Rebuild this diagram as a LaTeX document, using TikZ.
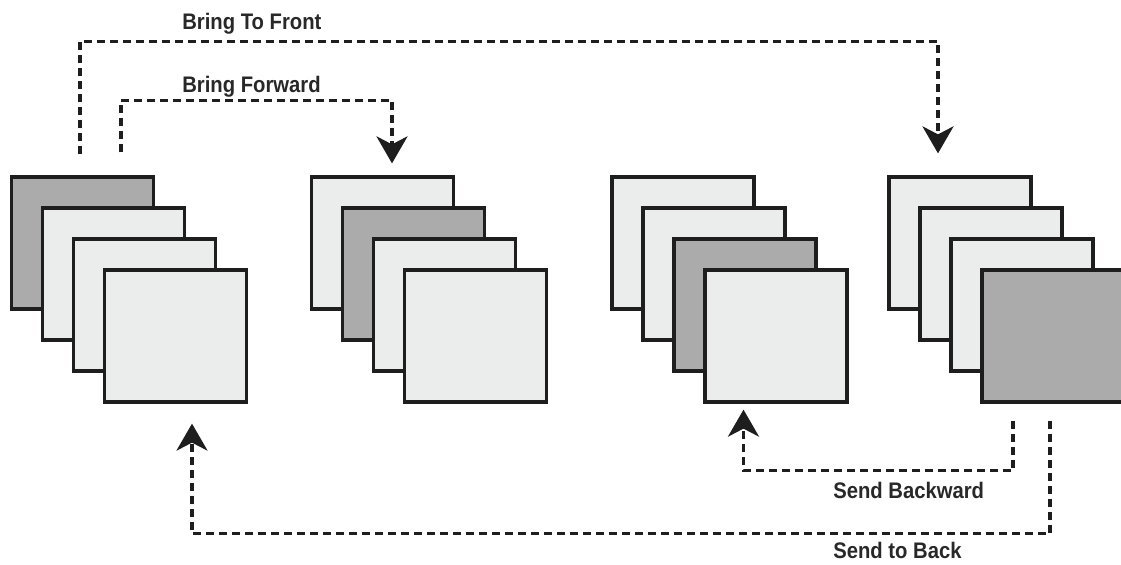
\documentclass[tikz,border=0pt]{standalone}
\usepackage{fontspec}
\setmainfont{Liberation Sans}[FakeStretch=0.9]
\usepackage{tikz}
\usetikzlibrary{arrows.meta, positioning, calc}
\definecolor{mydark}{RGB}{30,30,30}
\definecolor{mytext}{RGB}{40,40,40}
\definecolor{sheetlight}{RGB}{235,236,236}
\definecolor{sheetdark}{RGB}{171,171,171}
\tikzset{
  sheet/.style={rectangle, draw=mydark, fill=sheetlight,
    minimum width=2.84cm, minimum height=2.64cm, line width=0.065cm},
  picked/.style={fill=sheetdark},
  flow/.style={-{Stealth[length=0.54cm, width=0.62cm, inset=0.16cm]},
    line width=0.07cm, color=mydark, dash pattern=on 0.16cm off 0.1cm},
  lbl/.style={font=\fontsize{12.8}{14}\selectfont\bfseries, text=mytext,
    inner sep=0pt, anchor=base west}
}
\begin{document}
\begin{tikzpicture}[on grid]
  \useasboundingbox (0,0) rectangle (22.42,-11.28);

  % First stack: top sheet picked
  \node[sheet, picked] (a1) at (1.65,-4.86) {};
  \node[sheet, below right=0.62cm and 0.62cm of a1] (a2) {};
  \node[sheet, below right=0.62cm and 0.62cm of a2] (a3) {};
  \node[sheet, below right=0.62cm and 0.62cm of a3] (a4) {};

  % Second stack: picked sheet one step forward
  \node[sheet, right=6cm of a1] (b1) {};
  \node[sheet, picked, below right=0.62cm and 0.62cm of b1] (b2) {};
  \node[sheet, below right=0.62cm and 0.62cm of b2] (b3) {};
  \node[sheet, below right=0.62cm and 0.62cm of b3] (b4) {};

  % Third stack: picked sheet one step back
  \node[sheet, right=6.01cm of b1] (c1) {};
  \node[sheet, below right=0.62cm and 0.62cm of c1] (c2) {};
  \node[sheet, picked, below right=0.62cm and 0.62cm of c2] (c3) {};
  \node[sheet, below right=0.62cm and 0.62cm of c3] (c4) {};

  % Fourth stack: picked sheet at the back
  \node[sheet, right=5.54cm of c1] (d1) {};
  \node[sheet, below right=0.62cm and 0.62cm of d1] (d2) {};
  \node[sheet, below right=0.62cm and 0.62cm of d2] (d3) {};
  \node[sheet, picked, below right=0.62cm and 0.62cm of d3] (d4) {};

  % Labels
  \node[lbl] (front) at (3.64,-0.58) {Bring To Front};
  \node[lbl] (forward) at (3.64,-1.84) {Bring Forward};
  \node[lbl] (backward) at (16.66,-9.96) {Send Backward};
  \node[lbl] (back) at (16.66,-11.16) {Send to Back};

  % Connections
  \draw[flow] ([xshift=-0.05cm, yshift=0.42cm]a1.north) -- ++(0,2.26)
    -| ([xshift=-0.44cm, yshift=0.44cm]d1.north);
  \draw[flow] ([xshift=0.77cm, yshift=0.46cm]a1.north) -- ++(0,1.04)
    -| ([xshift=0.19cm, yshift=0.24cm]b1.north);
  \draw[flow] ([xshift=-0.8cm, yshift=-0.34cm]d4.south) -- ++(0,-1.0)
    -| ([xshift=-0.65cm, yshift=-0.12cm]c4.south);
  \draw[flow] ([xshift=-0.06cm, yshift=-0.34cm]d4.south) -- ++(0,-2.26)
    -| ([xshift=0.33cm, yshift=-0.4cm]a4.south);
\end{tikzpicture}
\end{document}
